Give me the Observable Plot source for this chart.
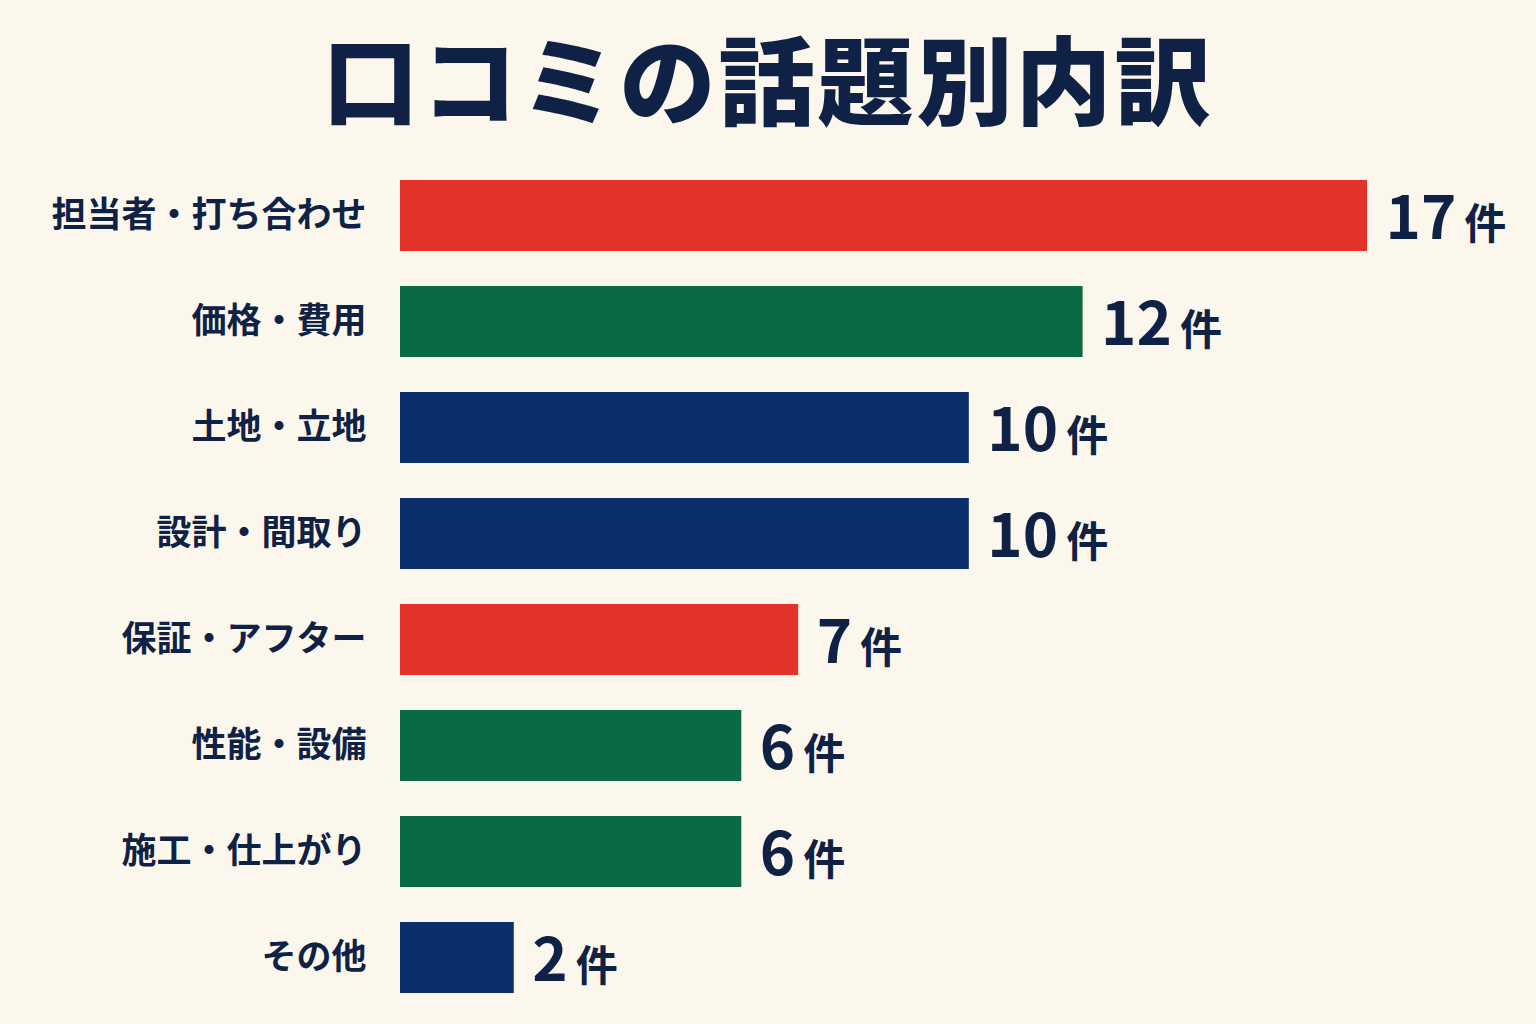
<!DOCTYPE html>
<html><head><meta charset="utf-8">
<script src="https://cdn.jsdelivr.net/npm/d3@7"></script>
<script src="https://cdn.jsdelivr.net/npm/@observablehq/plot@0.6"></script>
<style>
html,body{margin:0;padding:0;background:#FCF7EC;}
body{width:1536px;height:1024px;overflow:hidden;font-family:"Noto Sans CJK JP","Noto Sans",sans-serif;}
#title{height:160px;display:flex;align-items:center;justify-content:center;font-size:96px;font-weight:900;color:#0F2245;letter-spacing:3px;padding-bottom:10px;box-sizing:border-box;}
</style></head>
<body>
<div id="title">口コミの話題別内訳</div>
<div id="chart"></div>
<script>
const categories = ["担当者・打ち合わせ","価格・費用","土地・立地","設計・間取り","保証・アフター","性能・設備","施工・仕上がり","その他"];
const values = [17,12,10,10,7,6,6,2];
const colorKeys = ["A","B","C","C","A","B","B","C"];
const unit = "件";

const data = categories.map((c,i)=>({cat:c, value:values[i], key:colorKeys[i]}));

const chart = Plot.plot({
  width:1536, height:846,
  marginLeft:400, marginRight:169, marginTop:8, marginBottom:0,
  style:{background:"transparent", fontFamily:"'Noto Sans CJK JP', sans-serif", color:"#0F2245"},
  x:{domain:[0,17], axis:null},
  y:{domain:categories, paddingInner:0.33, paddingOuter:0.1, label:null},
  color:{domain:["A","B","C"], range:["#E3322A","#0B6A46","#0A2D6B"]},
  marks:[
    Plot.barX(data,{x:"value", y:"cat", fill:"key"}),
    Plot.axisY({tickSize:0, tickPadding:34, fontSize:35, fontWeight:"bold", label:null, fill:"#0F2245"}),
    Plot.text(data,{x:"value", y:"cat", text:d=>String(d.value), dx:18, textAnchor:"start", fontSize:60, fontWeight:"bold", fill:"#0F2245", dy:4, className:"vals"})
  ]
});
document.getElementById("chart").appendChild(chart);
d3.select(chart).selectAll("g.vals text").each(function(){
  d3.select(this).append("tspan").attr("dx",8).attr("font-size",42).text(unit);
});
</script>
</body></html>
